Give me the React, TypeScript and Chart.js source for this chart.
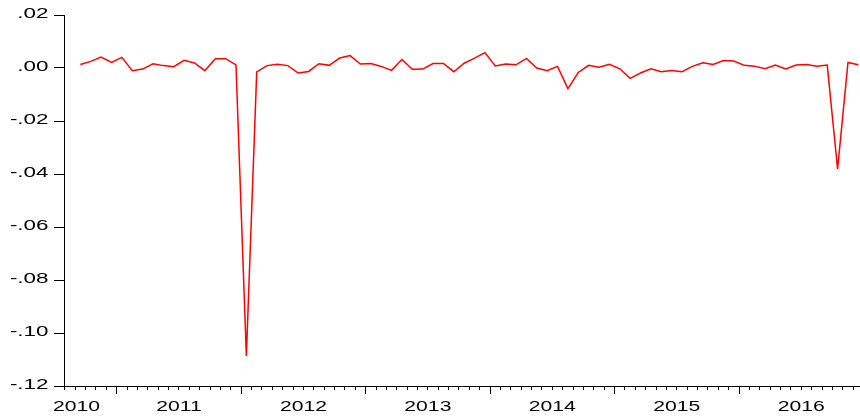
import { useEffect, useRef } from 'react';
import { Chart, registerables } from 'chart.js';

Chart.register(...registerables);

// Monthly observations (first month has no value)
const months = [
  '2010M08', '2010M09', '2010M10', '2010M11', '2010M12',
  '2011M01', '2011M02', '2011M03', '2011M04', '2011M05', '2011M06', '2011M07', '2011M08', '2011M09', '2011M10', '2011M11', '2011M12',
  '2012M01', '2012M02', '2012M03', '2012M04', '2012M05', '2012M06', '2012M07', '2012M08', '2012M09', '2012M10', '2012M11', '2012M12',
  '2013M01', '2013M02', '2013M03', '2013M04', '2013M05', '2013M06', '2013M07', '2013M08', '2013M09', '2013M10', '2013M11', '2013M12',
  '2014M01', '2014M02', '2014M03', '2014M04', '2014M05', '2014M06', '2014M07', '2014M08', '2014M09', '2014M10', '2014M11', '2014M12',
  '2015M01', '2015M02', '2015M03', '2015M04', '2015M05', '2015M06', '2015M07', '2015M08', '2015M09', '2015M10', '2015M11', '2015M12',
  '2016M01', '2016M02', '2016M03', '2016M04', '2016M05', '2016M06', '2016M07', '2016M08', '2016M09', '2016M10', '2016M11', '2016M12',
];

const values: (number | null)[] = [
  null, 0.0013, 0.0025, 0.0041, 0.0021,
  0.0040, -0.0010, -0.0004, 0.0016, 0.0009, 0.0005, 0.0029, 0.0019, -0.0010, 0.0035, 0.0035, 0.0012,
  -0.1087, -0.0015, 0.0009, 0.0014, 0.0009, -0.0019, -0.0013, 0.0016, 0.0010, 0.0038, 0.0047, 0.0015,
  0.0017, 0.0006, -0.0009, 0.0032, -0.0005, -0.0004, 0.0017, 0.0017, -0.0014, 0.0018, 0.0037, 0.0058,
  0.0008, 0.0015, 0.0012, 0.0036, 0.0000, -0.0010, 0.0006, -0.0078, -0.0017, 0.0010, 0.0003, 0.0014,
  -0.0003, -0.0039, -0.0019, -0.0003, -0.0014, -0.0009, -0.0014, 0.0006, 0.0020, 0.0013, 0.0028, 0.0026,
  0.0010, 0.0007, -0.0003, 0.0011, -0.0004, 0.0011, 0.0013, 0.0007, 0.0011, -0.0381, 0.0021, 0.0012,
];

const yearLabels = ['2010', '2011', '2012', '2013', '2014', '2015', '2016'];
const yTickValues = [0.02, 0, -0.02, -0.04, -0.06, -0.08, -0.1, -0.12];
const yTickLabels = ['.02', '.00', '-.02', '-.04', '-.06', '-.08', '-.10', '-.12'];

const BASE_YEAR = 2010;
const FONT = '"Liberation Sans", Arial, Helvetica, sans-serif';
const Y_STRETCH = 1.6;
const X_STRETCH = 1.41;
const Y_TICK_LEN = 10;

const monthIndex = (label: string) => {
  const [y, m] = label.split('M').map(Number);
  return (y - BASE_YEAR) * 12 + (m - 1);
};

const X_MIN = 6.92;
const X_MAX = 83.66;

const stretchedLabels = {
  id: 'stretchedLabels',
  afterDraw(chart: any) {
    const ctx = chart.ctx as CanvasRenderingContext2D;
    const ys = chart.scales.y;
    const xs = chart.scales.x;
    ctx.save();
    ctx.fillStyle = '#000';
    // y labels
    ctx.font = `14px ${FONT}`;
    ctx.textAlign = 'right';
    ctx.textBaseline = 'middle';
    yTickValues.forEach((v, i) => {
      const py = ys.getPixelForValue(v);
      ctx.save();
      ctx.translate(ys.right - Y_TICK_LEN - 5.5, py - 0.5);
      ctx.scale(Y_STRETCH, 1);
      ctx.fillText(yTickLabels[i], 0, 0);
      ctx.restore();
    });
    // x labels
    ctx.font = `15px ${FONT}`;
    ctx.textAlign = 'center';
    const leftBound = ys.right - Y_TICK_LEN - 1;
    yearLabels.forEach((lab) => {
      const yr = parseInt(lab, 10);
      let px = xs.getPixelForValue((yr - BASE_YEAR) * 12 + 6);
      const w = ctx.measureText(lab).width * X_STRETCH;
      if (px - w / 2 < leftBound) px = leftBound + w / 2;
      if (px + w / 2 > chart.width) px = chart.width - w / 2;
      ctx.save();
      ctx.translate(px, xs.top + 21);
      ctx.scale(X_STRETCH, 1);
      ctx.fillText(lab, 0, 0);
      ctx.restore();
    });
    ctx.restore();
  },
};

export default function App() {
  const ref = useRef<HTMLCanvasElement | null>(null);

  useEffect(() => {
    if (!ref.current) return;
    const points = months.map((m, i) => ({ x: monthIndex(m) + 0.5, y: values[i] }));
    const monthTicks: number[] = [];
    for (let v = Math.ceil(X_MIN); v <= Math.floor(X_MAX); v++) monthTicks.push(v);
    const yearTicks = yearLabels.map((l) => (parseInt(l, 10) - BASE_YEAR) * 12).filter((v) => v >= X_MIN && v <= X_MAX);

    const chart = new Chart(ref.current, {
      type: 'line',
      data: {
        datasets: [
          {
            data: points as any,
            borderColor: '#ff0000',
            borderWidth: 1.5,
            pointRadius: 0,
            tension: 0,
            spanGaps: false,
            fill: false,
          },
        ],
      },
      options: {
        responsive: false,
        animation: false,
        events: [],
        layout: { padding: { top: 15, right: 0, bottom: 31, left: 0 } },
        plugins: { legend: { display: false }, tooltip: { enabled: false } },
        scales: {
          x: {
            type: 'linear',
            position: 'bottom',
            min: X_MIN,
            max: X_MAX,
            afterBuildTicks: (s: any) => {
              s.ticks = monthTicks.map((v) => ({ value: v }));
            },
            afterFit: (s: any) => {
              s.height = 0;
            },
            ticks: { display: false },
            grid: { drawOnChartArea: false, drawTicks: true, tickLength: 4, color: '#000', tickColor: '#000', tickWidth: 1 },
            border: { display: true, color: '#000', width: 1 },
          },
          xMajor: {
            type: 'linear',
            position: 'bottom',
            min: X_MIN,
            max: X_MAX,
            afterBuildTicks: (s: any) => {
              s.ticks = yearTicks.map((v) => ({ value: v }));
            },
            afterFit: (s: any) => {
              s.height = 0;
            },
            ticks: { display: false },
            grid: { drawOnChartArea: false, drawTicks: true, tickLength: 8, color: '#000', tickColor: '#000', tickWidth: 1 },
            border: { display: false },
          },
          y: {
            type: 'linear',
            position: 'left',
            min: -0.12,
            max: 0.02,
            afterBuildTicks: (s: any) => {
              s.ticks = yTickValues.map((v) => ({ value: v }));
            },
            afterFit: (s: any) => {
              s.width = 64;
            },
            ticks: { display: false },
            grid: { drawOnChartArea: false, drawTicks: true, tickLength: Y_TICK_LEN, color: '#000', tickColor: '#000', tickWidth: 1 },
            border: { display: true, color: '#000', width: 1 },
          },
        },
      },
      plugins: [stretchedLabels],
    });
    return () => chart.destroy();
  }, []);

  return (
    <div style={{ position: 'fixed', left: 0, top: 0, width: 860, height: 417, background: '#fff' }}>
      <canvas ref={ref} width={860} height={417} style={{ display: 'block' }} />
    </div>
  );
}
